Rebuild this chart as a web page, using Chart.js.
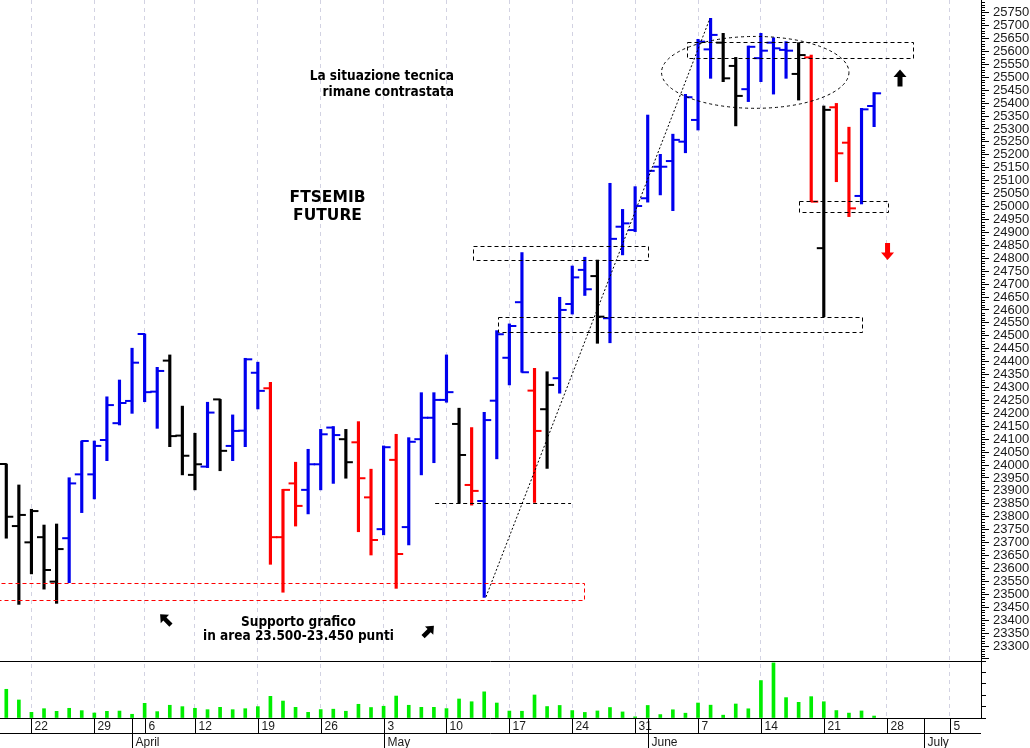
<!DOCTYPE html>
<html>
<head>
<meta charset="utf-8">
<script src="https://cdn.jsdelivr.net/npm/chart.js@4.4.1/dist/chart.umd.min.js"></script>
<style>
  html, body { margin: 0; padding: 0; background: #fff; }
  #wrap { width: 1030px; height: 748px; }
</style>
</head>
<body>
<div id="wrap"><canvas id="chart" width="1030" height="748"></canvas></div>
<script>
// trading days (2021), month-day
const tradingDays = [
  '03-18','03-19','03-22','03-23','03-24','03-25','03-26','03-29','03-30','03-31',
  '04-01','04-06','04-07','04-08','04-09','04-12','04-13','04-14','04-15','04-16',
  '04-19','04-20','04-21','04-22','04-23','04-26','04-27','04-28','04-29','04-30',
  '05-03','05-04','05-05','05-06','05-07','05-10','05-11','05-12','05-13','05-14',
  '05-17','05-18','05-19','05-20','05-21','05-24','05-25','05-26','05-27','05-28',
  '05-31','06-01','06-02','06-03','06-04','06-07','06-08','06-09','06-10','06-11',
  '06-14','06-15','06-16','06-17','06-18','06-21','06-22','06-23','06-24','06-25',
  '06-28','06-29','06-30','07-01','07-02','07-05','07-06','07-07'
];
const monthNames = { '04': 'April', '05': 'May', '06': 'June', '07': 'July' };

const opens = [24004,23764,23701,23721,23549,23717,23964,23964,24097,24162,
  24248,24507,24284,24404,24114,23962,23994,24254,24074,24133,
  24357,24297,23721,23929,23904,24003,24145,24100,24088,23875,
  23752,24020,23760,24100,24183,24252,24159,23923,23861,24249,
  24415,24630,24288,24216,24336,24623,24755,24731,24568,24922,
  24909,25032,25154,25176,25251,25335,25608,25634,25544,25454,
  25574,25634,25606,25513,25577,24839,25384,25247,25041,25389];
const highs = [24004,23923,23829,23768,23772,23951,24093,24093,24264,24329,
  24452,24507,24378,24426,24228,24123,24243,24254,24194,24413,
  24398,24320,23906,24011,24061,24138,24149,24138,24168,23984,
  24074,24119,24106,24280,24280,24426,24220,24145,24204,24520,
  24546,24822,24374,24361,24649,24770,24804,24793,25090,24989,
  25077,25354,25202,25280,25434,25647,25728,25670,25577,25621,
  25670,25653,25638,25634,25586,25389,25399,25307,25380,25441];
const lows = [23717,23461,23579,23520,23465,23545,23816,23869,24017,24155,
  24200,24245,24142,24071,23962,23904,23990,23978,24017,24071,
  24217,23616,23508,23764,23811,23904,23929,23949,23742,23652,
  23730,23523,23691,23962,24009,24243,23852,23845,23488,24024,
  24310,24359,23855,23987,24278,24584,24656,24471,24473,24813,
  24903,25017,25045,24984,25208,25296,25496,25483,25312,25406,
  25483,25435,25496,25412,25019,24574,25096,24961,25010,25309];
const closes = [23800,23807,23822,23594,23675,23929,24093,24074,24232,24240,
  24396,24282,24364,24112,24036,24003,24203,24055,24132,24409,
  24287,23721,23904,23842,24003,24119,24116,24011,23949,23710,
  24069,23656,24090,24183,24252,24282,24039,23900,24174,24506,
  24538,24359,24132,24310,24600,24726,24680,24574,24875,24935,
  25002,25138,25154,25258,25423,25638,25664,25496,25428,25618,
  25603,25612,25603,25586,25019,25374,25206,24993,25376,25438];
// bar colour signal: b = blue, r = red, k = black
const barSignal = ('kkkkk' + 'bbbbbbbb' + 'kkk' + 'b' + 'k' + 'bbb' + 'rrr' + 'bbb' + 'k' + 'rr' +
  'b' + 'r' + 'bbbb' + 'k' + 'r' + 'bbbb' + 'r' + 'k' + 'bbb' + 'k' + 'bbbbbbbbb' + 'kk' +
  'bbbb' + 'k' + 'r' + 'k' + 'rr' + 'bb').split('');
const volumes = [29300,18400,5800,9500,6800,9900,7500,5100,6800,7100,
  3800,15000,6500,13000,11600,9900,8500,10900,8500,9500,
  11600,22100,17300,10900,5800,8600,9000,6900,14000,10700,
  12000,22400,13000,10900,10900,9600,19400,16600,26700,15300,
  7100,6900,23500,11700,12800,7600,5700,7200,10700,6200,
  1200,12800,3500,8400,4900,15300,13100,2900,14300,9400,
  38200,56200,20800,16000,21800,16600,7600,5000,7200,2000];

const priceMin = 23242, priceMax = 25799, priceStep = 50;
const volMax = 58163, volStep = 12500;

const COLORS = { b: '#0000ee', r: '#ff0000', k: '#000000' };

const dayOf = s => new Date(2021, +s.slice(0, 2) - 1, +s.slice(3)).getDay();
const isWeekStart = i => i > 0 && dayOf(tradingDays[i]) < dayOf(tradingDays[i - 1]);
const isMonthStart = i => i > 0 && tradingDays[i].slice(0, 2) !== tradingDays[i - 1].slice(0, 2);

function line(ctx, x1, y1, x2, y2) {
  ctx.beginPath(); ctx.moveTo(x1, y1); ctx.lineTo(x2, y2); ctx.stroke();
}

function arrow(ctx, cx, cy, angle, color, s) {
  ctx.save();
  ctx.translate(cx, cy);
  ctx.rotate(angle);
  ctx.scale(s, s);
  ctx.fillStyle = color;
  ctx.beginPath();
  ctx.moveTo(0, -8.5);
  ctx.lineTo(6.5, -1);
  ctx.lineTo(2.5, -1);
  ctx.lineTo(2.5, 8.5);
  ctx.lineTo(-2.5, 8.5);
  ctx.lineTo(-2.5, -1);
  ctx.lineTo(-6.5, -1);
  ctx.closePath();
  ctx.fill();
  ctx.restore();
}

const overlay = {
  id: 'overlay',
  afterDatasetsDraw(chart) {
    const { ctx, chartArea: ca, scales: { x, y, yv } } = chart;
    const X = v => x.getPixelForValue(v);
    const Y = v => y.getPixelForValue(v);
    ctx.save();

    // open / close ticks
    ctx.lineWidth = 2;
    ctx.lineCap = 'butt';
    opens.forEach((o, i) => {
      const px = X(i);
      ctx.strokeStyle = COLORS[barSignal[i]];
      const yo = Y(o), yc = Y(closes[i]);
      line(ctx, px - 7, yo, px + 0.5, yo);
      line(ctx, px - 0.5, yc, px + 7, yc);
    });

    // panel separator
    ctx.strokeStyle = '#000';
    ctx.lineWidth = 1;
    line(ctx, 0, Math.round(yv.top) + 0.5, ca.right, Math.round(yv.top) + 0.5);

    // minor ticks on price axis
    for (let v = 23250; v < priceMax; v += 10) {
      if (v % 50 === 0) continue;
      const py = Math.round(Y(v)) + 0.5;
      line(ctx, ca.right, py, ca.right + 4, py);
    }

    // bottom time axis
    const base = Math.round(ca.bottom) + 0.5;
    line(ctx, 0, base, ca.right, base);
    line(ctx, 0, base + 15, ca.right, base + 15);
    ctx.fillStyle = '#1a1a1a';
    ctx.font = '12px "Liberation Sans", Arial, sans-serif';
    ctx.textBaseline = 'middle';
    ctx.textAlign = 'left';
    tradingDays.forEach((d, i) => {
      const px = Math.round(X(i)) + 0.5;
      if (isMonthStart(i)) {
        line(ctx, px, base, px, base + 30);
        ctx.fillText(monthNames[d.slice(0, 2)], px + 3, base + 24);
      }
      if (isWeekStart(i)) {
        line(ctx, px, base, px, base + 15);
        ctx.fillText(String(+d.slice(3)), px + 3, base + 8);
      }
    });

    // dashed boxes
    ctx.lineWidth = 1;
    ctx.setLineDash([4, 3]);
    const boxes = [
      [54.1, 72.07, 25575, 25635, '#000'],
      [37.1, 51.0, 24795, 24848, '#000'],
      [39.1, 68.06, 24514, 24572, '#000'],
      [63.05, 70.08, 24980, 25023, '#000'],
      [-1, 45.96, 23478, 23543, '#ff0000']
    ];
    boxes.forEach(([a, b, p0, p1, c]) => {
      ctx.strokeStyle = c;
      const x0 = Math.round(X(a)) + 0.5, x1 = Math.round(X(b)) + 0.5;
      const y0 = Math.round(Y(p1)) + 0.5, y1 = Math.round(Y(p0)) + 0.5;
      ctx.strokeRect(x0, y0, x1 - x0, y1 - y0);
    });
    ctx.strokeStyle = '#000';
    line(ctx, X(34.1), Math.round(Y(23852)) + 0.5, X(44.9), Math.round(Y(23852)) + 0.5);

    // trend line
    ctx.setLineDash([2, 2]);
    line(ctx, X(38.14), Y(23490), X(55.95), Y(25728));

    // ellipse
    ctx.setLineDash([3, 3]);
    const ex0 = X(59.55 - 7.45), ex1 = X(59.55 + 7.45);
    const ey0 = Y(25519 + 139), ey1 = Y(25519 - 139);
    ctx.beginPath();
    ctx.ellipse((ex0 + ex1) / 2, (ey0 + ey1) / 2, (ex1 - ex0) / 2, (ey1 - ey0) / 2, 0, 0, Math.PI * 2);
    ctx.stroke();
    ctx.setLineDash([]);

    // texts
    ctx.fillStyle = '#000';
    ctx.textBaseline = 'middle';
    ctx.font = 'bold 13.5px "DejaVu Sans Condensed", "DejaVu Sans", sans-serif';
    ctx.textAlign = 'right';
    ctx.fillText('La situazione tecnica', X(35.6), Y(25502));
    ctx.fillText('rimane contrastata', X(35.6), Y(25442));
    ctx.textAlign = 'center';
    ctx.fillText('Supporto grafico', X(23.23), Y(23390));
    ctx.fillText('in area 23.500-23.450 punti', X(23.23), Y(23336));
    ctx.font = 'bold 15.5px "DejaVu Sans", sans-serif';
    ctx.fillText('FTSEMIB', X(25.54), Y(25032));
    ctx.fillText('FUTURE', X(25.54), Y(24965));

    // arrows
    arrow(ctx, X(12.66), Y(23402), -Math.PI / 4, '#000', 0.9);
    arrow(ctx, X(33.57), Y(23357), Math.PI / 4, '#000', 0.9);
    arrow(ctx, X(71.06), Y(25497), 0, '#000', 1);
    arrow(ctx, X(70.07), Y(24826), Math.PI, '#ff0000', 1);

    ctx.restore();
  }
};

const axisFont = { family: '"Liberation Sans", Arial, sans-serif', size: 13 };
const noPad = s => { s.paddingTop = 0; s.paddingBottom = 0; s.paddingLeft = 0; s.paddingRight = 0; };

new Chart(document.getElementById('chart'), {
  data: {
    labels: tradingDays,
    datasets: [
      {
        type: 'bar',
        data: lows.map((l, i) => [l, highs[i]]),
        backgroundColor: barSignal.map(c => COLORS[c]),
        barThickness: 2.5,
        grouped: false,
        borderWidth: 0,
        yAxisID: 'y'
      },
      {
        type: 'bar',
        data: volumes,
        backgroundColor: '#00ee00',
        barThickness: 3,
        grouped: false,
        borderWidth: 0,
        yAxisID: 'yv'
      }
    ]
  },
  options: {
    responsive: false,
    animation: false,
    events: [],
    layout: { padding: 0 },
    plugins: { legend: { display: false }, tooltip: { enabled: false } },
    scales: {
      x: {
        type: 'category',
        offset: true,
        grid: {
          offset: false,
          drawTicks: false,
          color: c => isWeekStart(c.index) ? '#d2d2e2' : 'rgba(0,0,0,0)'
        },
        border: { display: false, dash: [4, 4] },
        ticks: { display: false },
        afterFit: s => { noPad(s); s.height = 30; }
      },
      y: {
        position: 'right',
        stack: 'panels',
        stackWeight: 661,
        min: priceMin,
        max: priceMax,
        grid: { drawOnChartArea: false, tickLength: 8, color: '#000' },
        border: { color: '#000' },
        ticks: {
          stepSize: priceStep,
          includeBounds: false,
          autoSkip: false,
          padding: 4,
          color: '#1a1a1a',
          font: axisFont,
          callback: v => (v % priceStep === 0 && v >= 23300 && v <= 25750) ? String(v) : ''
        },
        afterFit: s => { noPad(s); s.width = 49; }
      },
      yv: {
        position: 'right',
        stack: 'panels',
        stackWeight: 57,
        min: 0,
        max: volMax,
        grid: { drawOnChartArea: false, tickLength: 5, color: '#000' },
        border: { color: '#000' },
        ticks: {
          stepSize: volStep,
          includeBounds: false,
          autoSkip: false,
          padding: 7,
          color: '#1a1a1a',
          font: axisFont,
          callback: v => v === 50000 ? '50000' : ''
        },
        afterFit: s => { noPad(s); s.width = 49; }
      }
    }
  },
  plugins: [overlay]
});
</script>
</body>
</html>
